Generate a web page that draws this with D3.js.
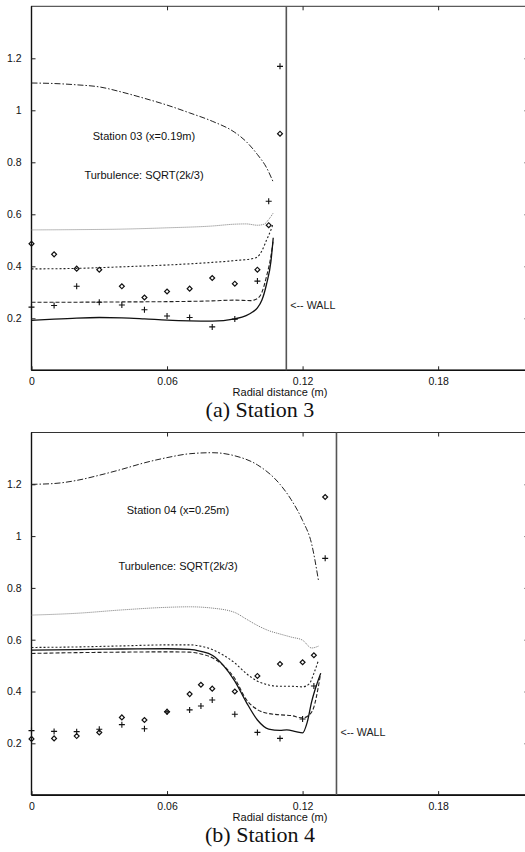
<!DOCTYPE html>
<html>
<head>
<meta charset="utf-8">
<script src="https://cdn.jsdelivr.net/npm/d3@7"></script>
<style>
	body { margin: 0; background: #fff; }
	svg { display: block; }
</style>
</head>
<body>
<svg id="chart" width="525" height="852"></svg>
<script>
// tick values
var xTicks = [0, 0.06, 0.12, 0.18];
var yTicks = [0.2, 0.4, 0.6, 0.8, 1, 1.2];

// station 3 : computed profiles [r, value]
var s3DashDot = [[0,1.105],[0.01,1.103],[0.02,1.098],[0.03,1.09],[0.04,1.07],[0.05,1.046],[0.06,1.02],[0.07,0.99],[0.08,0.958],[0.09,0.915],[0.095,0.88],[0.1,0.83],[0.104,0.78],[0.107,0.724]];
var s3Dotted = [[0,0.54],[0.02,0.541],[0.04,0.543],[0.06,0.548],[0.08,0.555],[0.09,0.562],[0.095,0.563],[0.1,0.558],[0.103,0.562],[0.105,0.58],[0.107,0.605]];
var s3Short = [[0,0.39],[0.02,0.392],[0.04,0.398],[0.06,0.405],[0.08,0.415],[0.09,0.422],[0.098,0.43],[0.1,0.436],[0.102,0.46],[0.104,0.5],[0.106,0.54],[0.107,0.565]];
var s3Dashed = [[0,0.262],[0.02,0.262],[0.04,0.263],[0.06,0.264],[0.08,0.267],[0.09,0.27],[0.097,0.268],[0.1,0.276],[0.102,0.3],[0.104,0.36],[0.106,0.44],[0.107,0.5]];
var s3Solid = [[0,0.192],[0.01,0.197],[0.02,0.201],[0.03,0.203],[0.04,0.202],[0.05,0.198],[0.06,0.193],[0.07,0.19],[0.08,0.189],[0.09,0.198],[0.095,0.21],[0.098,0.225],[0.1,0.24],[0.102,0.27],[0.104,0.33],[0.106,0.42],[0.107,0.51]];
// station 3 : measurements
var s3Diamond = [[0,0.487],[0.01,0.446],[0.02,0.391],[0.03,0.387],[0.04,0.323],[0.05,0.28],[0.06,0.303],[0.07,0.314],[0.08,0.355],[0.09,0.333],[0.1,0.387],[0.105,0.558],[0.11,0.91]];
var s3Plus = [[0,0.243],[0.01,0.249],[0.02,0.323],[0.03,0.262],[0.04,0.251],[0.05,0.233],[0.06,0.209],[0.07,0.203],[0.08,0.167],[0.09,0.197],[0.1,0.343],[0.105,0.65],[0.11,1.169]];

// station 4 : computed profiles
var s4DashDot = [[0,1.2],[0.01,1.203],[0.02,1.215],[0.03,1.235],[0.04,1.258],[0.05,1.283],[0.06,1.303],[0.07,1.318],[0.08,1.322],[0.09,1.31],[0.1,1.275],[0.11,1.2],[0.115,1.14],[0.12,1.06],[0.124,0.97],[0.127,0.83]];
var s4Dotted = [[0,0.695],[0.02,0.702],[0.04,0.715],[0.06,0.725],[0.07,0.727],[0.08,0.722],[0.09,0.705],[0.095,0.68],[0.1,0.655],[0.105,0.635],[0.11,0.622],[0.115,0.61],[0.12,0.598],[0.124,0.568],[0.127,0.575]];
var s4Short = [[0,0.57],[0.02,0.572],[0.04,0.576],[0.06,0.58],[0.07,0.58],[0.075,0.575],[0.08,0.562],[0.085,0.54],[0.09,0.51],[0.095,0.47],[0.1,0.44],[0.105,0.425],[0.11,0.42],[0.115,0.42],[0.12,0.418],[0.123,0.43],[0.125,0.47],[0.127,0.52]];
var s4Dashed = [[0,0.547],[0.02,0.55],[0.04,0.552],[0.06,0.553],[0.07,0.552],[0.075,0.545],[0.08,0.53],[0.085,0.5],[0.09,0.45],[0.095,0.37],[0.1,0.33],[0.105,0.315],[0.11,0.31],[0.115,0.307],[0.12,0.298],[0.123,0.31],[0.125,0.34],[0.127,0.42],[0.128,0.47]];
var s4Solid = [[0,0.56],[0.02,0.562],[0.04,0.564],[0.06,0.565],[0.07,0.563],[0.075,0.555],[0.08,0.54],[0.085,0.5],[0.09,0.44],[0.095,0.36],[0.1,0.29],[0.105,0.255],[0.11,0.25],[0.113,0.252],[0.117,0.245],[0.12,0.24],[0.122,0.28],[0.124,0.36],[0.126,0.42],[0.128,0.47]];
// station 4 : measurements
var s4Diamond = [[0,0.217],[0.01,0.219],[0.02,0.228],[0.03,0.242],[0.04,0.3],[0.05,0.29],[0.06,0.322],[0.07,0.39],[0.075,0.426],[0.08,0.411],[0.09,0.4],[0.1,0.46],[0.11,0.506],[0.12,0.513],[0.125,0.54],[0.13,1.151]];
var s4Plus = [[0,0.249],[0.01,0.246],[0.02,0.245],[0.03,0.254],[0.04,0.272],[0.05,0.256],[0.06,0.322],[0.07,0.329],[0.075,0.344],[0.08,0.367],[0.09,0.312],[0.1,0.242],[0.11,0.219],[0.12,0.294],[0.125,0.421],[0.13,0.914]];

var svg = d3.select('#chart');
var sans = '"Liberation Sans", Arial, sans-serif';

var drawPanel = function(opt) {
	var x = d3.scaleLinear().domain([0, 0.22]).range([31.5, 528.5]);
	var y = d3.scaleLinear().domain([0, 1.4]).range([opt.bottom, opt.top]);
	var g = svg.append('g').style('font-family', sans);

	// frame
	g.append('rect')
		.attr('x', x(0)).attr('y', y(1.4))
		.attr('width', x(0.22) - x(0)).attr('height', y(0) - y(1.4))
		.attr('fill', 'none').attr('stroke', '#333').attr('stroke-width', 1);
	g.append('line')
		.attr('x1', x(0)).attr('x2', x(0.22)).attr('y1', y(0)).attr('y2', y(0))
		.attr('stroke', '#111').attr('stroke-width', 1.6);
	g.append('line')
		.attr('x1', x(0)).attr('x2', x(0)).attr('y1', y(0)).attr('y2', y(1.4))
		.attr('stroke', '#111').attr('stroke-width', 1.4);

	// inward ticks, bottom/top and left/right
	var bottomAxis = d3.axisBottom(x).tickValues(xTicks).tickSize(-4).tickPadding(7).tickFormat(d3.format('~g'));
	var ax = g.append('g').attr('transform', 'translate(0,' + y(0) + ')').call(bottomAxis);
	var topAxis = d3.axisTop(x).tickValues(xTicks.slice(1)).tickSize(-4).tickFormat('');
	var at = g.append('g').attr('transform', 'translate(0,' + y(1.4) + ')').call(topAxis);
	var leftAxis = d3.axisLeft(y).tickValues(yTicks).tickSize(-4).tickPadding(10).tickFormat(d3.format('~g'));
	var al = g.append('g').attr('transform', 'translate(' + x(0) + ',0)').call(leftAxis);
	var rightAxis = d3.axisRight(y).tickValues(yTicks).tickSize(-4).tickFormat('');
	var ar = g.append('g').attr('transform', 'translate(' + x(0.22) + ',0)').call(rightAxis);
	[ax, at, al, ar].forEach(function(a) {
		a.select('.domain').remove();
		a.selectAll('line').attr('stroke', '#222');
		a.selectAll('text').attr('font-size', 10.5).attr('fill', '#111')
			.style('font-family', sans);
	});

	g.append('text')
		.attr('x', (x(0) + x(0.22)) / 2).attr('y', y(0) + 25.5)
		.attr('text-anchor', 'middle').attr('font-size', 11).attr('fill', '#111')
		.text('Radial distance (m)');

	// wall
	g.append('line')
		.attr('x1', x(opt.wall)).attr('x2', x(opt.wall)).attr('y1', y(0)).attr('y2', y(1.4))
		.attr('stroke', '#555').attr('stroke-width', 1.6);
	g.append('text')
		.attr('x', x(opt.wall) + 4).attr('y', y(opt.wallY) + 4)
		.attr('font-size', 10.7).attr('fill', '#222')
		.text('<-- WALL');

	// annotations
	g.append('text').attr('x', opt.noteX).attr('y', y(opt.note1Y) + 4)
		.attr('text-anchor', 'middle').attr('font-size', 11).attr('fill', '#111').text(opt.title);
	g.append('text').attr('x', opt.noteX).attr('y', y(opt.note2Y) + 4)
		.attr('text-anchor', 'middle').attr('font-size', 11).attr('fill', '#111').text('Turbulence: SQRT(2k/3)');

	// profiles
	var line = d3.line()
		.x(function(d) { return x(d[0]); })
		.y(function(d) { return y(d[1]); })
		.curve(d3.curveMonotoneX);
	var styles = [
		{data: opt.dashDot, dash: '6,2,1.5,2', color: '#222', w: 1},
		{data: opt.dotted, dash: '1,1', color: '#777', w: 1},
		{data: opt.short, dash: '2,2', color: '#222', w: 1.1},
		{data: opt.dashed, dash: '4,2', color: '#222', w: 1.1},
		{data: opt.solid, dash: null, color: '#111', w: 1.3}
	];
	styles.forEach(function(s) {
		g.append('path')
			.attr('d', line(s.data))
			.attr('fill', 'none')
			.attr('stroke', s.color)
			.attr('stroke-width', s.w)
			.attr('stroke-dasharray', s.dash);
	});

	// measurements
	var diamond = d3.symbol().type(d3.symbolSquare).size(12);
	g.selectAll('.dia').data(opt.diamonds).enter().append('path')
		.attr('d', diamond)
		.attr('transform', function(d) { return 'translate(' + x(d[0]) + ',' + y(d[1]) + ') rotate(45)'; })
		.attr('fill', 'none').attr('stroke', '#111').attr('stroke-width', 1.2);
	g.selectAll('.plus').data(opt.pluses).enter().append('path')
		.attr('d', 'M-3,0H3M0,-3V3')
		.attr('transform', function(d) { return 'translate(' + x(d[0]) + ',' + y(d[1]) + ')'; })
		.attr('fill', 'none').attr('stroke', '#111').attr('stroke-width', 1.1);

	// caption
	svg.append('text')
		.attr('x', 260).attr('y', opt.captionY)
		.attr('text-anchor', 'middle')
		.style('font-family', '"Liberation Serif", "Times New Roman", serif')
		.attr('font-size', 22).attr('fill', '#111')
		.text(opt.caption);
};

drawPanel({
	top: 6.3, bottom: 370.3, wall: 0.1128, wallY: 0.25,
	noteX: 144, note1Y: 0.9, note2Y: 0.75,
	title: 'Station 03 (x=0.19m)',
	dashDot: s3DashDot, dotted: s3Dotted, short: s3Short, dashed: s3Dashed, solid: s3Solid,
	diamonds: s3Diamond, pluses: s3Plus,
	caption: '(a) Station 3', captionY: 416.5
});
drawPanel({
	top: 432.5, bottom: 795.1, wall: 0.135, wallY: 0.245,
	noteX: 178, note1Y: 1.1, note2Y: 0.885,
	title: 'Station 04 (x=0.25m)',
	dashDot: s4DashDot, dotted: s4Dotted, short: s4Short, dashed: s4Dashed, solid: s4Solid,
	diamonds: s4Diamond, pluses: s4Plus,
	caption: '(b) Station 4', captionY: 841.5
});
</script>
</body>
</html>
